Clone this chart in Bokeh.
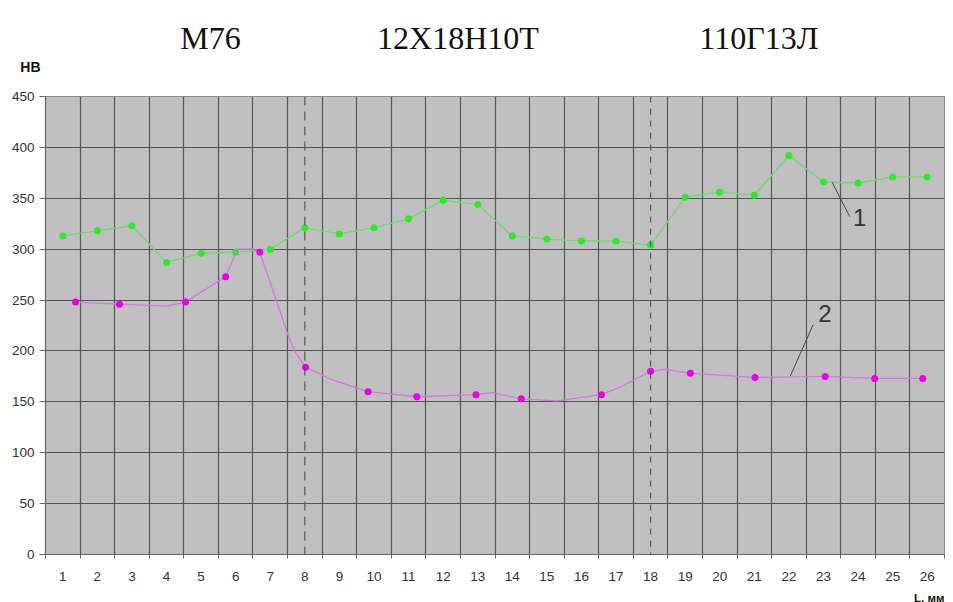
from bokeh.plotting import figure
from bokeh.layouts import column
from bokeh.models import Range1d, FixedTicker, Span, Label
from bokeh.core.properties import value
from bokeh.embed import file_html
from bokeh.resources import INLINE

# Hardness HB across the weld joint, L in mm
positions = list(range(1, 27))
tick_labels = [str(i) for i in positions]

# Curve 1: hardness measured at every millimetre
hb1 = [313, 318, 323, 287, 296, 297, 300, 321, 315, 321, 330, 348, 344, 313,
       310, 308, 308, 304, 351, 356, 353, 392, 366, 365, 371, 371]

# Curve 2: measured points
l2 = [1.37, 2.64, 4.55, 5.71, 6.70, 8.02, 9.83, 11.24, 12.95, 14.26, 16.58,
      18.0, 19.15, 21.02, 23.05, 24.48, 25.87]
hb2 = [248, 246, 248, 273, 297, 184, 160, 155, 157, 153, 157,
       180, 178, 174, 175, 173, 173]

# Curve 2: drawn trace between the measured points
trace_l2 = [1.37, 2.64, 3.97, 4.55, 5.71, 6.05, 6.49, 6.70, 7.50, 7.70, 8.02,
            8.83, 9.83, 11.24, 12.95, 13.42, 14.26, 15.30, 16.58, 17.22, 18.0,
            18.43, 19.15, 21.02, 23.05, 24.48, 25.87]
trace_hb2 = [248, 246, 244, 248, 273, 300, 300, 297, 217, 200, 184,
             171, 160, 155, 157, 159, 153, 151, 157, 166, 180,
             182, 178, 174, 175, 173, 173]

# Zone boundaries between the steels and the steel names
boundaries = [8, 18]
steels = ["М76", "12Х18Н10Т", "110Г13Л"]
steel_centers = [5.27, 12.43, 21.13]

y_ticks = list(range(0, 451, 50))

W = 953
LEFT, RIGHT = 45, 9
X0, X1 = 0.5, 26.5


def strip(height):
    f = figure(width=W, height=height, output_backend="svg",
               toolbar_location=None, x_range=Range1d(X0, X1),
               y_range=Range1d(0, height), x_axis_location=None,
               min_border_left=LEFT, min_border_right=RIGHT,
               min_border_top=0, min_border_bottom=0)
    f.grid.visible = False
    f.outline_line_color = None
    f.background_fill_color = "white"
    f.border_fill_color = "white"
    return f


# Header strip: steel names; its left axis carries the HB name
top = strip(86)
top.yaxis.ticker = FixedTicker(ticks=[19.5])
top.yaxis.major_label_overrides = {19.5: "HB"}
top.yaxis.axis_line_color = None
top.yaxis.major_tick_line_color = None
top.yaxis.minor_tick_line_color = None
top.yaxis.major_tick_in = 0
top.yaxis.major_tick_out = 0
top.yaxis.major_label_standoff = 5
top.yaxis.major_label_text_font = "Liberation Sans"
top.yaxis.major_label_text_font_size = "14px"
top.yaxis.major_label_text_font_style = "bold"
top.yaxis.major_label_text_color = "#111111"
top.text(steel_centers, [49] * 3, text=steels, text_align="center",
         text_baseline="alphabetic", text_font=value("Liberation Serif"),
         text_font_size="32px", text_color="#111111")

# Main chart
p = figure(width=W, height=499, output_backend="svg", toolbar_location=None,
           x_range=Range1d(X0, X1), y_range=Range1d(0, 450),
           min_border_left=LEFT, min_border_right=RIGHT, min_border_top=10,
           min_border_bottom=31)

p.background_fill_color = "#c0c0c0"
p.border_fill_color = "white"
p.outline_line_color = "#8a8a8a"
p.outline_line_width = 1

# x axis: labels at the middle of each millimetre, ticks and grid at the edges
p.xaxis.ticker = FixedTicker(ticks=positions,
                             minor_ticks=[i + 0.5 for i in range(0, 27)])
p.xaxis.major_label_overrides = {i: s for i, s in zip(positions, tick_labels)}
p.xaxis.major_tick_line_color = None
p.xaxis.major_tick_in = 0
p.xaxis.major_tick_out = 0
p.xaxis.minor_tick_in = 0
p.xaxis.minor_tick_out = 4
p.xaxis.minor_tick_line_color = "#666666"
p.xaxis.major_label_standoff = 13
p.xgrid.grid_line_color = None
p.xgrid.minor_grid_line_color = "#555555"
p.xgrid.minor_grid_line_width = 1.2

p.yaxis.ticker = FixedTicker(ticks=y_ticks)
p.yaxis.minor_tick_line_color = None
p.yaxis.major_tick_in = 0
p.yaxis.major_tick_out = 6
p.yaxis.major_tick_line_color = "#666666"
p.yaxis.major_label_standoff = 5
p.ygrid.grid_line_color = "#555555"
p.ygrid.grid_line_width = 1.2

for ax in (p.xaxis, p.yaxis):
    ax.axis_line_color = "#666666"
    ax.axis_line_width = 1.2
    ax.major_label_text_font = "Liberation Sans"
    ax.major_label_text_font_size = "13.5px"
    ax.major_label_text_color = "#333333"

# Zone boundaries
for b, dash in zip(boundaries, ["9 6", "6 6"]):
    p.add_layout(Span(location=b, dimension="height", line_color="#555555",
                      line_width=1.2, line_dash=dash))

# Curve 1
p.line(positions, hb1, line_color="#70d870", line_width=1.3)
p.scatter(positions, hb1, size=7, fill_color="#2ee82e", line_color=None)

# Curve 2
p.line(trace_l2, trace_hb2, line_color="#d277e0", line_width=1.3)
p.scatter(l2, hb2, size=7, fill_color="#e800e8", line_color=None)

# Curve callouts
p.line([23.25, 23.76], [365.7, 332.0], line_color="#444444", line_width=1)
p.line([22.70, 22.04], [225.7, 175.3], line_color="#444444", line_width=1)
p.add_layout(Label(x=24.05, y=323, text="1", text_align="center",
                   text_font="Liberation Sans", text_font_size="24px",
                   text_color="#333333"))
p.add_layout(Label(x=23.04, y=228, text="2", text_align="center",
                   text_font="Liberation Sans", text_font_size="24px",
                   text_color="#333333"))

# Footer strip: name of the L axis at the right end
bottom = strip(17)
bottom.yaxis.visible = False
bottom.text([X1], [5], text=["L, мм"], text_align="right",
            text_baseline="alphabetic", text_font=value("Liberation Sans"),
            text_font_size="11.5px", text_font_style="bold",
            text_color="#111111")

layout = column(top, p, bottom, spacing=0)
open("out.html", "w").write(file_html(layout, INLINE))
